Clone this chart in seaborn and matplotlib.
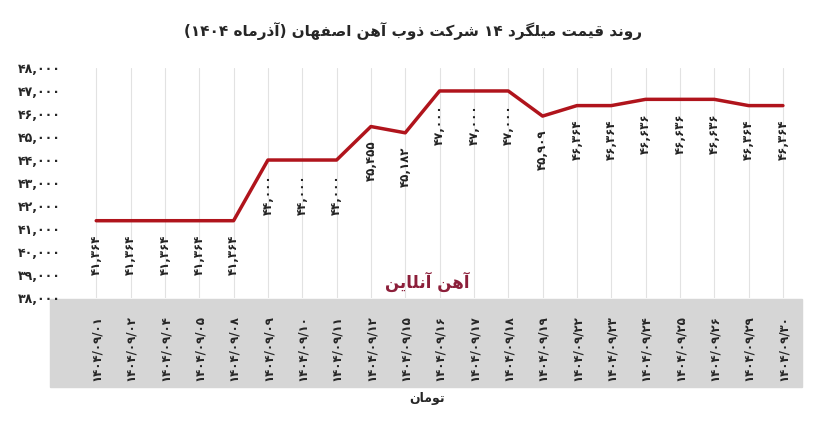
import re
import matplotlib
matplotlib.use("Agg")
import matplotlib.pyplot as plt
import seaborn as sns
import pandas as pd
from matplotlib.patches import Rectangle

# Data
dates = ["01", "02", "04", "05", "08", "09", "10", "11", "12", "15", "16",
         "17", "18", "19", "22", "23", "24", "25", "26", "29", "30"]
prices = [41364, 41364, 41364, 41364, 41364, 44000, 44000, 44000, 45455, 45182,
          47000, 47000, 47000, 45909, 46364, 46364, 46636, 46636, 46636, 46364, 46364]
yticks = [38000, 39000, 40000, 41000, 42000, 43000, 44000, 45000, 46000, 47000, 48000]

FA = str.maketrans("0123456789", "۰۱۲۳۴۵۶۷۸۹")

# minimal Persian shaper: (isolated, final, initial, medial)
FORMS = {
    "ا": ("\uFE8D", "\uFE8E", None, None), "آ": ("\uFE81", "\uFE82", None, None),
    "د": ("\uFEA9", "\uFEAA", None, None), "ذ": ("\uFEAB", "\uFEAC", None, None),
    "ر": ("\uFEAD", "\uFEAE", None, None), "و": ("\uFEED", "\uFEEE", None, None),
    "ب": ("\uFE8F", "\uFE90", "\uFE91", "\uFE92"), "ت": ("\uFE95", "\uFE96", "\uFE97", "\uFE98"),
    "ش": ("\uFEB5", "\uFEB6", "\uFEB7", "\uFEB8"), "ص": ("\uFEB9", "\uFEBA", "\uFEBB", "\uFEBC"),
    "ف": ("\uFED1", "\uFED2", "\uFED3", "\uFED4"), "ق": ("\uFED5", "\uFED6", "\uFED7", "\uFED8"),
    "ک": ("\uFB8E", "\uFB8F", "\uFB90", "\uFB91"), "گ": ("\uFB92", "\uFB93", "\uFB94", "\uFB95"),
    "ل": ("\uFEDD", "\uFEDE", "\uFEDF", "\uFEE0"), "م": ("\uFEE1", "\uFEE2", "\uFEE3", "\uFEE4"),
    "ن": ("\uFEE5", "\uFEE6", "\uFEE7", "\uFEE8"), "ه": ("\uFEE9", "\uFEEA", "\uFEEB", "\uFEEC"),
    "ی": ("\uFBFC", "\uFBFD", "\uFBFE", "\uFBFF"),
}


def joins_next(c):
    return c in FORMS and FORMS[c][2] is not None


def shape(s):
    out = []
    for i, c in enumerate(s):
        if c not in FORMS:
            out.append(c)
            continue
        prev = s[i - 1] if i > 0 else ""
        nxt = s[i + 1] if i + 1 < len(s) else ""
        left = joins_next(prev)
        right = joins_next(c) and nxt in FORMS
        iso, fin, ini, med = FORMS[c]
        if left and right:
            out.append(med)
        elif left:
            out.append(fin)
        elif right:
            out.append(ini)
        else:
            out.append(iso)
    # reverse for RTL, keeping digit runs in order and mirroring brackets
    res = "".join(out)[::-1]
    res = res.translate(str.maketrans("()", ")("))
    return re.sub(r"[0-9۰-۹]+", lambda m: m.group(0)[::-1], res)


sns.set_theme(style="white")
plt.rcParams["font.family"] = ["DejaVu Sans"]

fig = plt.figure(figsize=(8.27, 4.47), dpi=100)
fig.add_artist(Rectangle((0.06, 0.135), 0.91, 0.195, transform=fig.transFigure,
                         color="#d6d6d6", zorder=0))
ax = fig.add_axes([0.079, 0.333, 0.876, 0.515])
ax.patch.set_alpha(0)

df = pd.DataFrame({"x": range(len(dates)), "price": prices})
sns.lineplot(data=df, x="x", y="price", ax=ax, color="#b0141c", linewidth=2.5)

for i, v in enumerate(prices):
    ax.axvline(i, color="#e2e2e2", lw=0.8, zorder=0)
    ax.annotate(f"{v:,}".translate(FA), (i, v), xytext=(0, -10), textcoords="offset points",
                rotation=90, ha="center", va="top", fontsize=8.5, fontweight="bold",
                color="#222222")

ax.set_xlim(-0.9, 20.2)
ax.set_ylim(38000, 48000)
ax.set_yticks(yticks)
ax.set_yticklabels([f"{t:,}".translate(FA) for t in yticks], fontsize=9, fontweight="bold")
ax.set_xticks(range(len(dates)))
ax.set_xticklabels([f"1404/09/{d}".translate(FA) for d in dates], rotation=90,
                   fontsize=8.5, fontweight="bold")
ax.tick_params(axis="x", pad=12, length=0)
ax.tick_params(axis="y", length=0)
ax.set_xlabel(shape("تومان"), fontsize=9, fontweight="bold", labelpad=8)
ax.set_ylabel("")
sns.despine(ax=ax, left=True, bottom=True)

ax.text(0.5, 0.07, shape("آهن آنلاین"), transform=ax.transAxes, ha="center", va="center",
        fontsize=12, color="#8c1f3a", fontweight="bold")

fig.text(0.5, 0.93, shape("روند قیمت میلگرد 14 شرکت ذوب آهن اصفهان (آذرماه 1404)".translate(FA)),
         ha="center", va="center", fontsize=11, fontweight="bold")

fig.savefig("out.png", dpi=100)
